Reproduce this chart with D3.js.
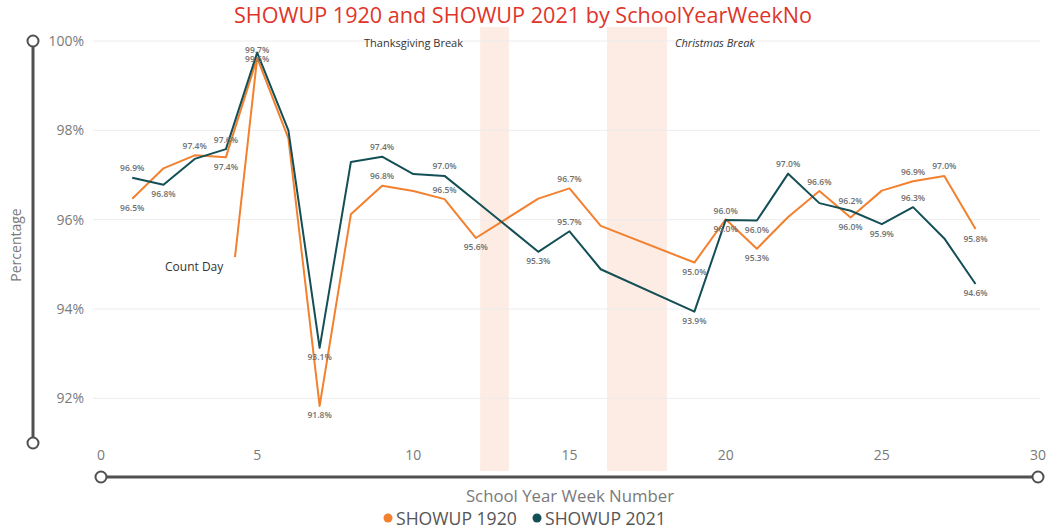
<!DOCTYPE html>
<html>
<head>
<meta charset="utf-8">
<script src="https://cdn.jsdelivr.net/npm/d3@7"></script>
<style>
  body { margin: 0; background: #fff; }
  text { font-family: "Segoe UI", "Open Sans", sans-serif; }
</style>
</head>
<body>
<svg id="chart" width="1050" height="531"></svg>
<script>
// week numbers that have data (13, 17, 18 are breaks)
var weeks = [1,2,3,4,5,6,7,8,9,10,11,12,14,15,16,19,20,21,22,23,24,25,26,27,28];
var showup1920 = [96.47,97.15,97.44,97.40,99.62,97.82,91.83,96.12,96.76,96.64,96.46,95.59,96.47,96.70,95.86,95.04,96.01,95.35,96.06,96.64,96.05,96.65,96.86,96.98,95.79];
var showup2021 = [96.94,96.78,97.36,97.58,99.74,98.00,93.13,97.29,97.41,97.02,96.98,96.42,95.28,95.74,94.89,93.94,95.99,95.98,97.03,96.37,96.20,95.90,96.28,95.58,94.56];
var yTicks = [92, 94, 96, 98, 100];
var xTicks = [0, 5, 10, 15, 20, 25, 30];
var breaks = [
  { name: "Thanksgiving Break", from: 12.14, to: 13.06 },
  { name: "Christmas Break", from: 16.2, to: 18.12 }
];
var countDay = { name: "Count Day", from: [4.29, 95.16], to: [5, 99.62] };

// which data labels power bi showed: a = above, b = below
var labels1920 = ["b","","a","b","c","","b","","a","","a","b","","a","","b","b","b","","a","b","","a","a","b"];
var labels2021 = ["a","b","","a","t","","b","","a","","a","","b","a","","b","a","b","a","","a","b","a","","b"];

var orange = "#f2802f", teal = "#134f55";

var svg = d3.select("#chart");
var x = d3.scaleLinear().domain([0, 30]).range([101, 1038]);
var y = d3.scaleLinear().domain([91, 100]).range([443, 41]);

// title
svg.append("text")
  .attr("x", 523).attr("y", 23)
  .attr("text-anchor", "middle")
  .style("font-size", "21.6px")
  .style("fill", "#e0352b")
  .text("SHOWUP 1920 and SHOWUP 2021 by SchoolYearWeekNo");

// break bands
svg.selectAll(".band")
  .data(breaks)
  .enter().append("rect")
    .attr("class", "band")
    .attr("x", function(d) { return x(d.from); })
    .attr("width", function(d) { return x(d.to) - x(d.from); })
    .attr("y", 27)
    .attr("height", 444)
    .style("fill", "#fcece4");

// gridlines
svg.selectAll(".grid")
  .data(yTicks)
  .enter().append("line")
    .attr("class", "grid")
    .attr("x1", 93).attr("x2", 1040)
    .attr("y1", function(d) { return y(d); })
    .attr("y2", function(d) { return y(d); })
    .style("stroke", "#ececec")
    .style("stroke-width", 1);

// y tick labels
svg.selectAll(".ytick")
  .data(yTicks)
  .enter().append("text")
    .attr("class", "ytick")
    .attr("x", 84)
    .attr("y", function(d) { return y(d) + 5; })
    .attr("text-anchor", "end")
    .style("font-size", "14px")
    .style("fill", "#7a7a7a")
    .text(function(d) { return d + "%"; });

// x tick labels
svg.selectAll(".xtick")
  .data(xTicks)
  .enter().append("text")
    .attr("class", "xtick")
    .attr("x", function(d) { return x(d); })
    .attr("y", 460)
    .attr("text-anchor", "middle")
    .style("font-size", "14px")
    .style("fill", "#7a7a7a")
    .text(function(d) { return d; });

// axis titles
svg.append("text")
  .attr("transform", "translate(21,245)rotate(-90)")
  .attr("text-anchor", "middle")
  .style("font-size", "14px")
  .style("fill", "#7a7a7a")
  .text("Percentage");

svg.append("text")
  .attr("x", 570).attr("y", 502)
  .attr("text-anchor", "middle")
  .style("font-size", "16.8px")
  .style("fill", "#7a7a7a")
  .text("School Year Week Number");

// zoom sliders
function slider(x1, y1, x2, y2) {
  svg.append("line")
    .attr("x1", x1).attr("y1", y1).attr("x2", x2).attr("y2", y2)
    .style("stroke", "#505050")
    .style("stroke-width", 3);
  svg.selectAll(null)
    .data([[x1, y1], [x2, y2]])
    .enter().append("circle")
      .attr("cx", function(d) { return d[0]; })
      .attr("cy", function(d) { return d[1]; })
      .attr("r", 5.5)
      .style("fill", "#fff")
      .style("stroke", "#505050")
      .style("stroke-width", 2);
}
slider(33, y(100), 33, y(91));
slider(x(0), 477, x(30), 477);

// annotations
svg.selectAll(".break-label")
  .data(breaks)
  .enter().append("text")
    .attr("class", "break-label")
    .attr("x", function(d, i) { return i == 0 ? 364 : 675; })
    .attr("y", 47)
    .style("font-size", "11px")
    .style("font-style", function(d, i) { return i == 1 ? "italic" : "normal"; })
    .style("fill", "#333")
    .text(function(d) { return d.name; });

svg.append("line")
  .attr("x1", x(countDay.from[0])).attr("y1", y(countDay.from[1]))
  .attr("x2", x(countDay.to[0])).attr("y2", y(countDay.to[1]))
  .style("stroke", orange)
  .style("stroke-width", 2);

svg.append("text")
  .attr("x", 165).attr("y", 271)
  .style("font-size", "12px")
  .style("fill", "#333")
  .text(countDay.name);

// lines
var line = d3.line()
  .x(function(d) { return x(d[0]); })
  .y(function(d) { return y(d[1]); });

var series = [
  { name: "SHOWUP 1920", values: showup1920, color: orange, labels: labels1920 },
  { name: "SHOWUP 2021", values: showup2021, color: teal, labels: labels2021 }
];

series.forEach(function(s) {
  var pts = weeks.map(function(w, i) { return [w, s.values[i], s.labels[i]]; });
  svg.append("path")
    .datum(pts)
    .attr("d", line)
    .style("fill", "none")
    .style("stroke", s.color)
    .style("stroke-width", 2)
    .style("stroke-linejoin", "round");
});

var offsets = { a: -9.5, b: 9.5, t: -2.5, c: 1.5 };
series.forEach(function(s) {
  var pts = weeks.map(function(w, i) { return [w, s.values[i], s.labels[i]]; })
    .filter(function(d) { return d[2]; });
  svg.selectAll(null)
    .data(pts)
    .enter().append("text")
      .attr("x", function(d) { return x(d[0]); })
      .attr("y", function(d) { return y(d[1]) + offsets[d[2]] + 3; })
      .attr("text-anchor", "middle")
      .style("font-size", "8.5px")
      .style("font-weight", "600")
      .style("fill", "#707070")
      .text(function(d) { return d[1].toFixed(1) + "%"; });
});

// legend
var legend = svg.append("g").attr("transform", "translate(388,518)");
var lx = [0, 149];
series.forEach(function(s, i) {
  legend.append("circle")
    .attr("cx", lx[i]).attr("cy", 0).attr("r", 4.5)
    .style("fill", s.color);
  legend.append("text")
    .attr("x", lx[i] + 8).attr("y", 6.5)
    .style("font-size", "17.6px")
    .style("fill", "#555")
    .text(s.name);
});
</script>
</body>
</html>
